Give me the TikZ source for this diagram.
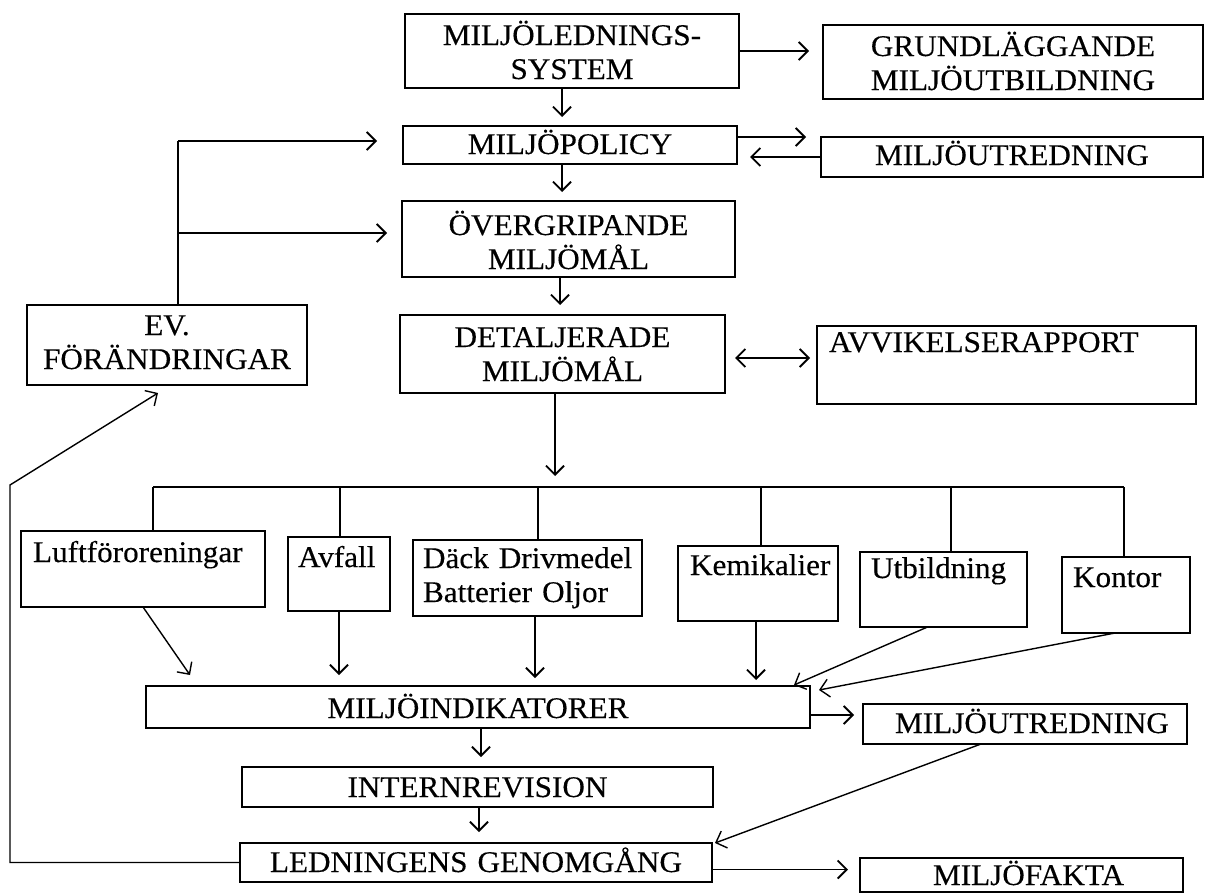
\documentclass[tikz,border=0pt]{standalone}
\usepackage{fontspec}
\setmainfont{Liberation Serif}[FakeStretch=1.04,FakeBold=0.3]
\usetikzlibrary{arrows.meta,calc}
\begin{document}
\begin{tikzpicture}[x=1pt,y=-1pt,
  bx/.style={draw, line width=1.8pt, anchor=north west, inner sep=0pt, outer sep=0pt,
             font=\fontsize{30}{34}\selectfont},
  ctr/.style={align=center},
  lft/.style={align=left},
  ln/.style={line width=1.8pt},
  thn/.style={line width=1.4pt},
  tip/.style={Straight Barb[length=9pt,width=18pt]},
  arr/.style={ln,-{Straight Barb[length=9pt,width=18pt]}},
  tarr/.style={thn,-{Straight Barb[length=9pt,width=18pt]}},
  darr/.style={ln,{Straight Barb[length=9pt,width=18pt]}-{Straight Barb[length=9pt,width=18pt]}},
]
\useasboundingbox (0,0) rectangle (1205,894);

% ---------- upper boxes ----------
\node[bx,ctr,text width=334pt,text height=31pt,text depth=43pt] (sys) at (405,14)
  {MILJÖLEDNINGS-\\SYSTEM\hspace*{50pt}};
\node[bx,ctr,text width=380pt,text height=31pt,text depth=43pt] (grund) at (823,25)
  {GRUNDLÄGGANDE\hspace*{20pt}\\MILJÖUTBILDNING\hspace*{20pt}};
\node[bx,ctr,text width=334pt,text height=28pt,text depth=10pt] (pol) at (403,126)
  {MILJÖPOLICY\hspace*{30pt}};
\node[bx,ctr,text width=382pt,text height=28pt,text depth=12pt] (utr1) at (821,137)
  {MILJÖUTREDNING};
\node[bx,ctr,text width=333pt,text height=34pt,text depth=42pt] (overg) at (402,201)
  {ÖVERGRIPANDE\hspace*{26pt}\\MILJÖMÅL\hspace*{26pt}};
\node[bx,ctr,text width=325pt,text height=32pt,text depth=46pt] (detal) at (400,315)
  {DETALJERADE\\MILJÖMÅL\hspace*{10pt}};
\node[bx,lft,inner xsep=12pt,text width=355pt,text height=26pt,text depth=52pt] (avvik) at (817,326)
  {AVVIKELSERAPPORT};
\node[bx,ctr,text width=280pt,text height=30pt,text depth=50pt] (ev) at (27,305)
  {EV.\\FÖRÄNDRINGAR\hspace*{16pt}};

% ---------- category boxes ----------
\node[bx,lft,inner xsep=12pt,text width=220pt,text height=31pt,text depth=45pt] (luft) at (21,531)
  {\mbox{Luftföroreningar}};
\node[bx,lft,inner xsep=10pt,text width=82pt,text height=30pt,text depth=44pt] (avf) at (288,537)
  {\mbox{Avfall}};
\node[bx,lft,inner xsep=10pt,text width=209pt,text height=28pt,text depth=48pt] (dack) at (413,540)
  {\mbox{Däck Drivmedel}\\\mbox{Batterier Oljor}};
\node[bx,lft,inner xsep=12pt,text width=136pt,text height=29pt,text depth=46pt] (kemi) at (678,546)
  {\mbox{Kemikalier}};
\node[bx,lft,inner xsep=11pt,text width=145pt,text height=26pt,text depth=49pt] (utb) at (860,552)
  {\mbox{Utbildning}};
\node[bx,lft,inner xsep=11pt,text width=106pt,text height=30pt,text depth=46pt] (kont) at (1062,557)
  {\mbox{Kontor}};

% ---------- lower boxes ----------
\node[bx,ctr,text width=664pt,text height=32pt,text depth=10pt] (ind) at (146,686)
  {MILJÖINDIKATORER};
\node[bx,ctr,text width=324pt,text height=29pt,text depth=11pt] (utr2) at (863,704)
  {\hspace*{14pt}MILJÖUTREDNING};
\node[bx,ctr,text width=471pt,text height=30pt,text depth=10pt] (int) at (242,767)
  {INTERNREVISION\hspace*{20pt}};
\node[bx,ctr,text width=472pt,text height=29pt,text depth=10pt] (ledn) at (240,843)
  {LEDNINGENS GENOMGÅNG\hspace*{16pt}};
\node[bx,ctr,text width=323pt,text height=27pt,text depth=7pt] (fakta) at (860,858)
  {\hspace*{14pt}MILJÖFAKTA};

% ---------- upper connectors ----------
\draw[arr,shorten >=14pt] (sys.east) -- (sys.east -| grund.west);
\draw[arr,shorten >=9pt] ([xshift=-10pt]sys.south) -- ([xshift=-10pt]sys.south |- pol.north);
\draw[arr,shorten >=15pt] ([yshift=8pt]pol.east) -- ([yshift=8pt]pol.east -| utr1.west);
\draw[arr,shorten >=13pt] (utr1.west) -- (utr1.west -| pol.east);
\draw[arr,shorten >=9pt] ([xshift=-8pt]pol.south) -- ([xshift=-8pt]pol.south |- overg.north);
\draw[arr,shorten >=10pt] ([xshift=-8.5pt]overg.south) -- ([xshift=-8.5pt]overg.south |- detal.north);
\draw[darr,shorten <=10pt,shorten >=7pt] ([yshift=-4pt]detal.east) -- ([yshift=-4pt]detal.east -| avvik.west);

% feedback from EV. FÖRÄNDRINGAR
\coordinate (evtop) at (178,141);
\coordinate (evb) at (178,233);
\draw[ln] ([xshift=11pt]ev.north) -- (evtop);
\draw[arr,shorten >=26pt] (evtop) -- (evtop -| pol.west);
\draw[arr,shorten >=15pt] (evb) -- (evb -| overg.west);

% ---------- distribution bus ----------
\coordinate (b1) at (153,487);
\coordinate (b2) at (340,487);
\coordinate (b3) at (538,487);
\coordinate (b4) at (761,487);
\coordinate (b5) at (951,487);
\coordinate (b6) at (1124,487);
\draw[arr,shorten >=11pt] ([xshift=-7.5pt]detal.south) -- ([xshift=-7.5pt]detal.south |- b1);
\draw[ln] (b1) -- (b6);
\draw[ln] (b1) -- (b1 |- luft.north);
\draw[ln] (b2) -- (b2 |- avf.north);
\draw[ln] (b3) -- (b3 |- dack.north);
\draw[ln] (b4) -- (b4 |- kemi.north);
\draw[ln] (b5) -- (b5 |- utb.north);
\draw[ln] (b6) -- (b6 |- kont.north);

% ---------- into MILJÖINDIKATORER ----------
\draw[tarr] (luft.south) -- ($(ind.north west)+(44,-11)$);
\draw[arr,shorten >=11pt] (avf.south) -- (avf.south |- ind.north);
\draw[arr,shorten >=8pt] ([xshift=7.5pt]dack.south) -- ([xshift=7.5pt]dack.south |- ind.north);
\draw[arr,shorten >=6pt] ([xshift=-2pt]kemi.south) -- ([xshift=-2pt]kemi.south |- ind.north);
\draw[tarr] ([xshift=-16pt]utb.south) -- ($(ind.north east)+(-16,-1)$);
\draw[tarr] ([xshift=-11pt]kont.south) -- ($(ind.north east)+(9,4)$);

% ---------- lower chain ----------
\draw[arr,shorten >=9pt] ([yshift=-8pt]ind.east) -- ([yshift=-8pt]ind.east -| utr2.west);
\draw[arr,shorten >=10pt] ([xshift=3pt]ind.south) -- ([xshift=3pt]ind.south |- int.north);
\draw[arr,shorten >=11pt] ([xshift=1.5pt]int.south) -- ([xshift=1.5pt]int.south |- ledn.north);
\draw[tarr] ([xshift=-44pt]utr2.south) -- ($(ledn.north east)+(3,0)$);
\draw[arr,shorten >=12pt] ([yshift=-7pt]ledn.east) -- ([yshift=-7pt]ledn.east -| fakta.west);

% ---------- feedback from LEDNINGENS GENOMGÅNG ----------
\coordinate (fb) at (10,485);
\draw[tarr] (ledn.west) -| (fb) -- ($(ev.south west)+(131,8)$);
\end{tikzpicture}
\end{document}
